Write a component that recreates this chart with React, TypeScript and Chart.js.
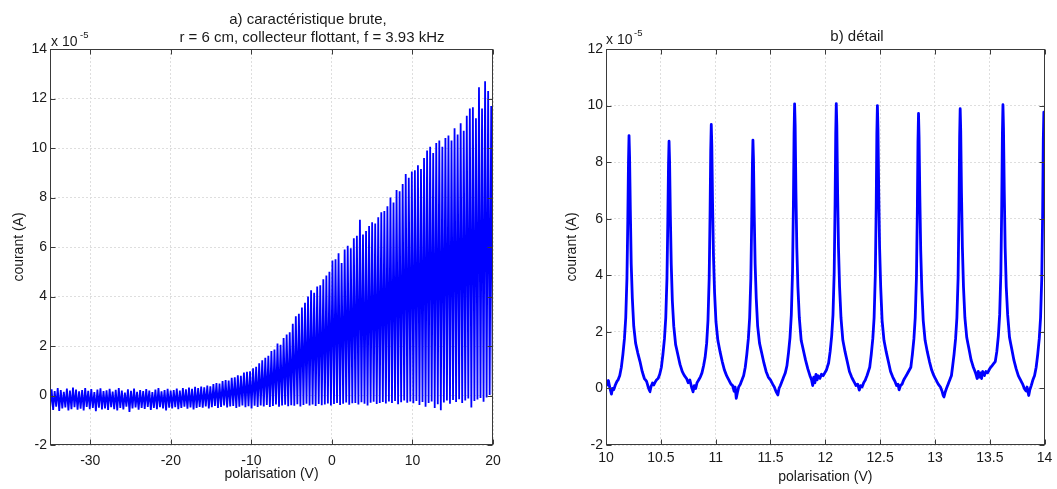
import React, { useEffect, useRef } from "react";
import { Chart, registerables } from "chart.js";

Chart.register(...registerables);

const FONT_FAMILY = "'Liberation Sans', Arial, Helvetica, sans-serif";
const TEXT_COLOR = "#1a1a1a";
const GRID_COLOR = "#dedede";
const FRAME_COLOR = "#3a3a3a";
const TRACE_COLOR = "#0000ff";

// ---------- panel a) : raw characteristic ----------
const sweepTitle = ["a) caractéristique brute,", "r = 6 cm, collecteur flottant, f = 3.93 kHz"];
const sweepXTicks = [-30, -20, -10, 0, 10, 20];
const sweepYTicks = [-2, 0, 2, 4, 6, 8, 10, 12, 14];
const sweepXRange = [-35, 20];
const sweepYRange = [-2, 14];
// spikes are sampled at a fixed bias step (one oscillation period)
const sweepStart = -34.8;
const sweepStep = 0.379;
// spike maxima (x 1e-5 A), one per oscillation period
const sweepPeaks = [
  0.25, 0.18, 0.3, 0.22, 0.15, 0.28, 0.2, 0.32, 0.24, 0.17,
  0.22, 0.3, 0.19, 0.26, 0.14, 0.24, 0.29, 0.18, 0.21, 0.27,
  0.16, 0.23, 0.3, 0.2, 0.12, 0.25, 0.19, 0.28, 0.15, 0.22,
  0.18, 0.26, 0.2, 0.14, 0.24, 0.3, 0.17, 0.22, 0.27, 0.2,
  0.22, 0.28, 0.2, 0.3, 0.25, 0.32, 0.27, 0.35, 0.3, 0.36,
  0.33, 0.4, 0.37, 0.46, 0.5, 0.48, 0.58, 0.62, 0.6, 0.72,
  0.74, 0.82, 0.8, 0.93, 0.96, 0.98, 1.1, 1.16, 1.3, 1.42,
  1.52, 1.6, 1.8, 1.86, 2.1, 2.05, 2.32, 2.46, 2.55, 2.9,
  3.2, 3.3, 3.55, 3.75, 4.0, 4.25, 4.15, 4.4, 4.45, 4.7,
  4.85, 5.0, 5.45, 5.5, 5.75, 5.35, 5.9, 6.05, 5.95, 6.35,
  6.45, 7.1, 6.5, 6.65, 6.85, 7.0, 6.95, 7.2, 7.4, 7.45,
  7.65, 8.0, 7.8, 8.3, 8.25, 8.55, 8.95, 8.8, 9.05, 9.1,
  9.3, 9.15, 9.6, 9.9, 10.05, 9.8, 10.2, 10.3, 10.05, 10.4,
  10.5, 10.3, 10.8, 10.55, 11.0, 10.7, 11.3, 11.6, 11.65, 11.2,
  12.45, 11.6, 12.7, 12.3, 11.7,
];
// minima between spikes (x 1e-5 A)
const sweepTroughs = [
  -0.5, -0.58, -0.45, -0.62, -0.52, -0.48, -0.6, -0.55, -0.47, -0.57,
  -0.53, -0.6, -0.46, -0.55, -0.5, -0.63, -0.49, -0.56, -0.52, -0.58,
  -0.47, -0.55, -0.6, -0.5, -0.56, -0.45, -0.66, -0.52, -0.48, -0.57,
  -0.5, -0.54, -0.46, -0.58, -0.5, -0.55, -0.47, -0.52, -0.6, -0.49,
  -0.52, -0.47, -0.55, -0.5, -0.45, -0.53, -0.48, -0.56, -0.5, -0.46,
  -0.49, -0.44, -0.52, -0.47, -0.42, -0.5, -0.46, -0.4, -0.48, -0.44,
  -0.42, -0.5, -0.45, -0.4, -0.47, -0.43, -0.52, -0.41, -0.46, -0.4,
  -0.44, -0.38, -0.46, -0.42, -0.36, -0.45, -0.4, -0.37, -0.43, -0.39,
  -0.41, -0.35, -0.44, -0.38, -0.33, -0.4, -0.36, -0.42, -0.34, -0.39,
  -0.36, -0.32, -0.4, -0.34, -0.3, -0.38, -0.33, -0.28, -0.37, -0.31,
  -0.3, -0.36, -0.27, -0.33, -0.4, -0.29, -0.25, -0.34, -0.3, -0.26,
  -0.32, -0.24, -0.3, -0.22, -0.35, -0.27, -0.2, -0.29, -0.24, -0.31,
  -0.22, -0.38, -0.26, -0.45, -0.3, -0.24, -0.5, -0.35, -0.6, -0.28,
  -0.2, -0.33, -0.18, -0.26, -0.15, -0.3, -0.2, -0.12, -0.48, -0.22,
  -0.16, -0.1, -0.25, -0.08, 0.02, 0.05,
];

// ---------- panel b) : detail ----------
const detailTitle = "b) détail";
const detailXTicks = [10, 10.5, 11, 11.5, 12, 12.5, 13, 13.5, 14];
const detailYTicks = [-2, 0, 2, 4, 6, 8, 10, 12];
const detailXRange = [10, 14];
const detailYRange = [-2, 12];
// [polarisation (V), courant (x 1e-5 A)]
const detailSamples: [number, number][] = [
  [10.0, 0.25], [10.012, 0.12], [10.022, 0.28], [10.035, 0.02], [10.05, -0.2], [10.058, 0.0], [10.07, -0.05], [10.085, 0.12], [10.1, 0.25], [10.11, 0.3], [10.125, 0.45],
  [10.14, 0.75], [10.154, 1.2], [10.168, 1.75], [10.18, 2.5], [10.191, 3.9], [10.199, 6.0], [10.205, 8.0], [10.21, 8.94], [10.215, 8.2], [10.222, 6.3], [10.23, 4.4], [10.24, 3.2], [10.253, 2.2], [10.27, 1.6],
  [10.29, 1.25], [10.31, 0.95], [10.33, 0.6], [10.35, 0.35], [10.37, 0.25], [10.385, 0.05], [10.4, -0.12], [10.412, 0.08], [10.425, 0.2], [10.435, 0.12],
  [10.445, 0.2], [10.46, 0.3], [10.475, 0.35], [10.49, 0.5],
  [10.505, 0.75], [10.519, 1.2], [10.533, 1.75], [10.545, 2.5], [10.556, 3.9], [10.564, 6.0], [10.57, 7.9], [10.575, 8.74], [10.58, 8.0], [10.587, 6.1], [10.595, 4.4], [10.605, 3.1], [10.618, 2.2], [10.635, 1.55],
  [10.655, 1.2], [10.675, 0.85], [10.695, 0.6], [10.715, 0.45], [10.735, 0.35], [10.75, 0.2], [10.765, 0.3], [10.78, 0.05], [10.794, -0.12], [10.805, 0.1], [10.818, 0.0],
  [10.83, 0.2], [10.845, 0.3], [10.86, 0.4], [10.875, 0.55],
  [10.89, 0.8], [10.904, 1.1], [10.918, 1.6], [10.93, 2.4], [10.941, 3.9], [10.949, 6.2], [10.955, 8.4], [10.96, 9.33], [10.965, 8.6], [10.972, 6.5], [10.98, 4.7], [10.99, 3.4], [11.003, 2.35], [11.02, 1.7],
  [11.04, 1.3], [11.06, 0.95], [11.08, 0.65], [11.1, 0.45], [11.12, 0.3], [11.14, 0.15], [11.155, 0.1], [11.168, -0.1], [11.178, 0.05], [11.188, -0.35], [11.198, -0.15],
  [11.21, 0.05], [11.225, 0.15], [11.24, 0.3], [11.255, 0.45],
  [11.27, 0.75], [11.284, 1.2], [11.298, 1.75], [11.31, 2.5], [11.321, 3.9], [11.329, 6.0], [11.335, 7.9], [11.34, 8.78], [11.345, 8.1], [11.352, 6.1], [11.36, 4.4], [11.37, 3.2], [11.383, 2.2], [11.4, 1.6],
  [11.42, 1.25], [11.44, 0.9], [11.46, 0.6], [11.48, 0.4], [11.5, 0.3], [11.52, 0.15], [11.535, 0.05], [11.55, -0.1], [11.567, -0.23], [11.578, 0.0],
  [11.59, 0.1], [11.605, 0.25], [11.62, 0.4], [11.635, 0.55],
  [11.65, 0.8], [11.664, 1.25], [11.678, 1.8], [11.69, 2.6], [11.701, 4.1], [11.709, 6.5], [11.715, 9.0], [11.72, 10.06], [11.725, 9.3], [11.732, 7.0], [11.74, 5.0], [11.75, 3.6], [11.763, 2.5], [11.78, 1.7],
  [11.8, 1.35], [11.82, 1.0], [11.84, 0.7], [11.86, 0.45], [11.875, 0.3], [11.885, 0.1], [11.895, 0.4], [11.905, 0.2], [11.915, 0.5], [11.925, 0.3], [11.935, 0.45], [11.95, 0.35], [11.965, 0.5],
  [11.98, 0.45], [11.995, 0.55], [12.01, 0.65],
  [12.03, 0.9], [12.044, 1.3], [12.058, 1.85], [12.07, 2.6], [12.081, 4.1], [12.089, 6.5], [12.095, 9.0], [12.1, 10.07], [12.105, 9.3], [12.112, 7.0], [12.12, 5.0], [12.13, 3.6], [12.143, 2.5], [12.16, 1.7],
  [12.18, 1.3], [12.2, 0.95], [12.22, 0.6], [12.24, 0.4], [12.26, 0.25], [12.28, 0.1], [12.295, 0.15], [12.31, -0.06], [12.322, 0.1], [12.335, 0.05],
  [12.35, 0.2], [12.365, 0.3], [12.38, 0.45],
  [12.405, 0.75], [12.419, 1.2], [12.433, 1.75], [12.445, 2.5], [12.456, 4.0], [12.464, 6.4], [12.47, 9.0], [12.475, 10.0], [12.48, 9.2], [12.487, 7.0], [12.495, 5.0], [12.505, 3.6], [12.518, 2.4], [12.535, 1.7],
  [12.555, 1.3], [12.575, 0.95], [12.595, 0.6], [12.615, 0.4], [12.635, 0.25], [12.65, 0.1], [12.663, 0.15], [12.673, -0.05], [12.685, 0.1],
  [12.7, 0.15], [12.715, 0.3], [12.73, 0.4], [12.745, 0.5],
  [12.78, 0.75], [12.794, 1.2], [12.808, 1.75], [12.82, 2.5], [12.831, 3.9], [12.839, 6.2], [12.845, 8.7], [12.85, 9.72], [12.855, 8.9], [12.862, 6.8], [12.87, 4.9], [12.88, 3.5], [12.893, 2.4], [12.91, 1.7],
  [12.93, 1.3], [12.95, 0.95], [12.97, 0.65], [12.99, 0.45], [13.01, 0.3], [13.03, 0.15], [13.05, 0.05], [13.065, -0.1], [13.075, -0.25], [13.082, -0.3], [13.092, -0.15],
  [13.105, 0.0], [13.12, 0.15], [13.135, 0.3], [13.15, 0.45],
  [13.16, 0.75], [13.174, 1.2], [13.188, 1.75], [13.2, 2.5], [13.211, 3.9], [13.219, 6.3], [13.225, 8.9], [13.23, 9.89], [13.235, 9.1], [13.242, 6.9], [13.25, 5.0], [13.26, 3.6], [13.273, 2.5], [13.29, 1.8],
  [13.31, 1.4], [13.33, 1.0], [13.35, 0.75], [13.37, 0.55], [13.385, 0.35], [13.395, 0.6], [13.405, 0.4], [13.415, 0.55], [13.425, 0.35], [13.435, 0.6], [13.45, 0.45], [13.465, 0.6], [13.48, 0.55], [13.5, 0.7], [13.52, 0.8],
  [13.55, 0.95], [13.564, 1.3], [13.578, 1.85], [13.59, 2.6], [13.601, 4.1], [13.609, 6.5], [13.615, 9.0], [13.62, 10.03], [13.625, 9.2], [13.632, 7.0], [13.64, 5.0], [13.65, 3.6], [13.663, 2.6], [13.68, 1.8],
  [13.7, 1.4], [13.72, 1.0], [13.74, 0.7], [13.76, 0.45], [13.78, 0.3], [13.8, 0.15], [13.815, 0.0], [13.83, -0.1], [13.84, 0.05], [13.855, -0.25], [13.865, -0.05],
  [13.878, 0.1], [13.893, 0.3], [13.908, 0.45],
  [13.923, 0.75], [13.937, 1.2], [13.951, 1.75], [13.963, 2.5], [13.974, 3.9], [13.982, 6.2], [13.988, 8.8], [13.993, 9.77], [13.998, 8.9], [14.003, 6.5],
];

const xLabel = "polarisation (V)";
const yLabel = "courant (A)";
const multiplier = "x 10";
const multiplierExp = "-5";

function buildSweepPoints() {
  const pts: { x: number; y: number }[] = [];
  for (let i = 0; i < sweepPeaks.length; i++) {
    const xc = sweepStart + i * sweepStep;
    pts.push({ x: xc - sweepStep / 2, y: sweepTroughs[i] });
    pts.push({ x: xc, y: sweepPeaks[i] });
  }
  const last = sweepStart + (sweepPeaks.length - 1) * sweepStep;
  pts.push({ x: last + sweepStep / 2, y: sweepTroughs[sweepPeaks.length] });
  return pts;
}

type TextItem = { text: string; x: number; y: number; size: number; align: CanvasTextAlign };

function makeOverlay(id: string, texts: TextItem[]) {
  return {
    id,
    afterDatasetsDraw(chart: any) {
      const { ctx, chartArea: a, scales } = chart;
      ctx.save();
      const L = Math.round(a.left) + 0.5;
      const R = Math.round(a.right) - 0.5;
      const T = Math.round(a.top) + 0.5;
      const B = Math.round(a.bottom) - 0.5;
      ctx.strokeStyle = FRAME_COLOR;
      ctx.lineWidth = 1;
      ctx.setLineDash([]);
      ctx.beginPath();
      for (const t of scales.x.ticks) {
        const px = Math.round(scales.x.getPixelForValue(t.value)) + 0.5;
        ctx.moveTo(px, B);
        ctx.lineTo(px, B - 5);
        ctx.moveTo(px, T);
        ctx.lineTo(px, T + 5);
      }
      for (const t of scales.y.ticks) {
        const py = Math.round(scales.y.getPixelForValue(t.value)) + 0.5;
        ctx.moveTo(L, py);
        ctx.lineTo(L + 5, py);
        ctx.moveTo(R, py);
        ctx.lineTo(R - 5, py);
      }
      ctx.stroke();
      ctx.strokeRect(L, T, R - L, B - T);
      ctx.restore();
    },
    afterDraw(chart: any) {
      const { ctx } = chart;
      ctx.save();
      ctx.fillStyle = TEXT_COLOR;
      ctx.textBaseline = "alphabetic";
      for (const t of texts) {
        ctx.font = `${t.size}px ${FONT_FAMILY}`;
        ctx.textAlign = t.align;
        ctx.fillText(t.text, t.x, t.y);
      }
      ctx.restore();
    },
  };
}

function axisOptions(
  range: number[],
  ticks: number[],
  fitSize: number,
  isX: boolean,
  tickPad: number,
  titlePad: { top: number; bottom: number }
) {
  return {
    type: "linear" as const,
    min: range[0],
    max: range[1],
    afterBuildTicks: (s: any) => {
      s.ticks = ticks.map((v) => ({ value: v }));
    },
    afterFit: (s: any) => {
      if (isX) s.height = fitSize;
      else s.width = fitSize;
    },
    grid: { color: GRID_COLOR, lineWidth: 1, drawTicks: false },
    border: { display: false, dash: [2, 2] },
    ticks: {
      padding: tickPad,
      color: TEXT_COLOR,
      font: { family: FONT_FAMILY, size: 14 },
      maxRotation: 0,
      autoSkip: false,
      callback: (v: any) => String(v),
    },
    title: {
      display: true,
      text: isX ? xLabel : yLabel,
      color: TEXT_COLOR,
      font: { family: FONT_FAMILY, size: 14 },
      padding: titlePad,
    },
  };
}

export default function App() {
  const leftRef = useRef<HTMLCanvasElement | null>(null);
  const rightRef = useRef<HTMLCanvasElement | null>(null);

  useEffect(() => {
    if (!leftRef.current || !rightRef.current) return;

    const left = new Chart(leftRef.current, {
      type: "line",
      data: {
        datasets: [
          {
            data: buildSweepPoints(),
            borderColor: TRACE_COLOR,
            borderWidth: 1.8,
            pointRadius: 0,
            tension: 0,
            fill: false,
            clip: 0,
          },
        ],
      },
      options: {
        responsive: false,
        animation: false,
        devicePixelRatio: 1,
        layout: { padding: { left: 0, right: 47, top: 49, bottom: 0 } },
        plugins: { legend: { display: false }, tooltip: { enabled: false }, title: { display: false } },
        scales: {
          x: axisOptions(sweepXRange, sweepXTicks, 44, true, 7.6, { top: 0, bottom: 6.3 }),
          y: axisOptions(sweepYRange, sweepYTicks, 50, false, 3, { top: 10.4, bottom: 0 }),
        },
      } as any,
      plugins: [
        makeOverlay("overlayA", [
          { text: sweepTitle[0], x: 308, y: 24, size: 15, align: "center" },
          { text: sweepTitle[1], x: 312, y: 41.5, size: 15, align: "center" },
          { text: multiplier, x: 51, y: 46, size: 14, align: "left" },
          { text: multiplierExp, x: 80, y: 37.5, size: 9.5, align: "left" },
        ]),
      ],
    });

    const right = new Chart(rightRef.current, {
      type: "line",
      data: {
        datasets: [
          {
            data: detailSamples.map(([x, y]) => ({ x, y })),
            borderColor: TRACE_COLOR,
            borderWidth: 2.8,
            borderJoinStyle: "round",
            borderCapStyle: "round",
            pointRadius: 0,
            tension: 0.001,
            fill: false,
            clip: 0,
          },
        ],
      },
      options: {
        responsive: false,
        animation: false,
        devicePixelRatio: 1,
        layout: { padding: { left: 0, right: 10, top: 49, bottom: 0 } },
        plugins: { legend: { display: false }, tooltip: { enabled: false }, title: { display: false } },
        scales: {
          x: axisOptions(detailXRange, detailXTicks, 44, true, 4.6, { top: 0, bottom: 3.8 }),
          y: axisOptions(detailYRange, detailYTicks, 66, false, 3, { top: 23.9, bottom: 0 }),
        },
      } as any,
      plugins: [
        makeOverlay("overlayB", [
          { text: detailTitle, x: 317, y: 41, size: 15, align: "center" },
          { text: multiplier, x: 66, y: 43.5, size: 14, align: "left" },
          { text: multiplierExp, x: 94, y: 36, size: 9.5, align: "left" },
        ]),
      ],
    });

    return () => {
      left.destroy();
      right.destroy();
    };
  }, []);

  return (
    <div style={{ position: "absolute", left: 0, top: 0, width: 1057, height: 489, background: "#ffffff" }}>
      <canvas ref={leftRef} width={540} height={489} style={{ position: "absolute", left: 0, top: 0, width: 540, height: 489 }} />
      <canvas ref={rightRef} width={517} height={489} style={{ position: "absolute", left: 540, top: 0, width: 517, height: 489 }} />
    </div>
  );
}
